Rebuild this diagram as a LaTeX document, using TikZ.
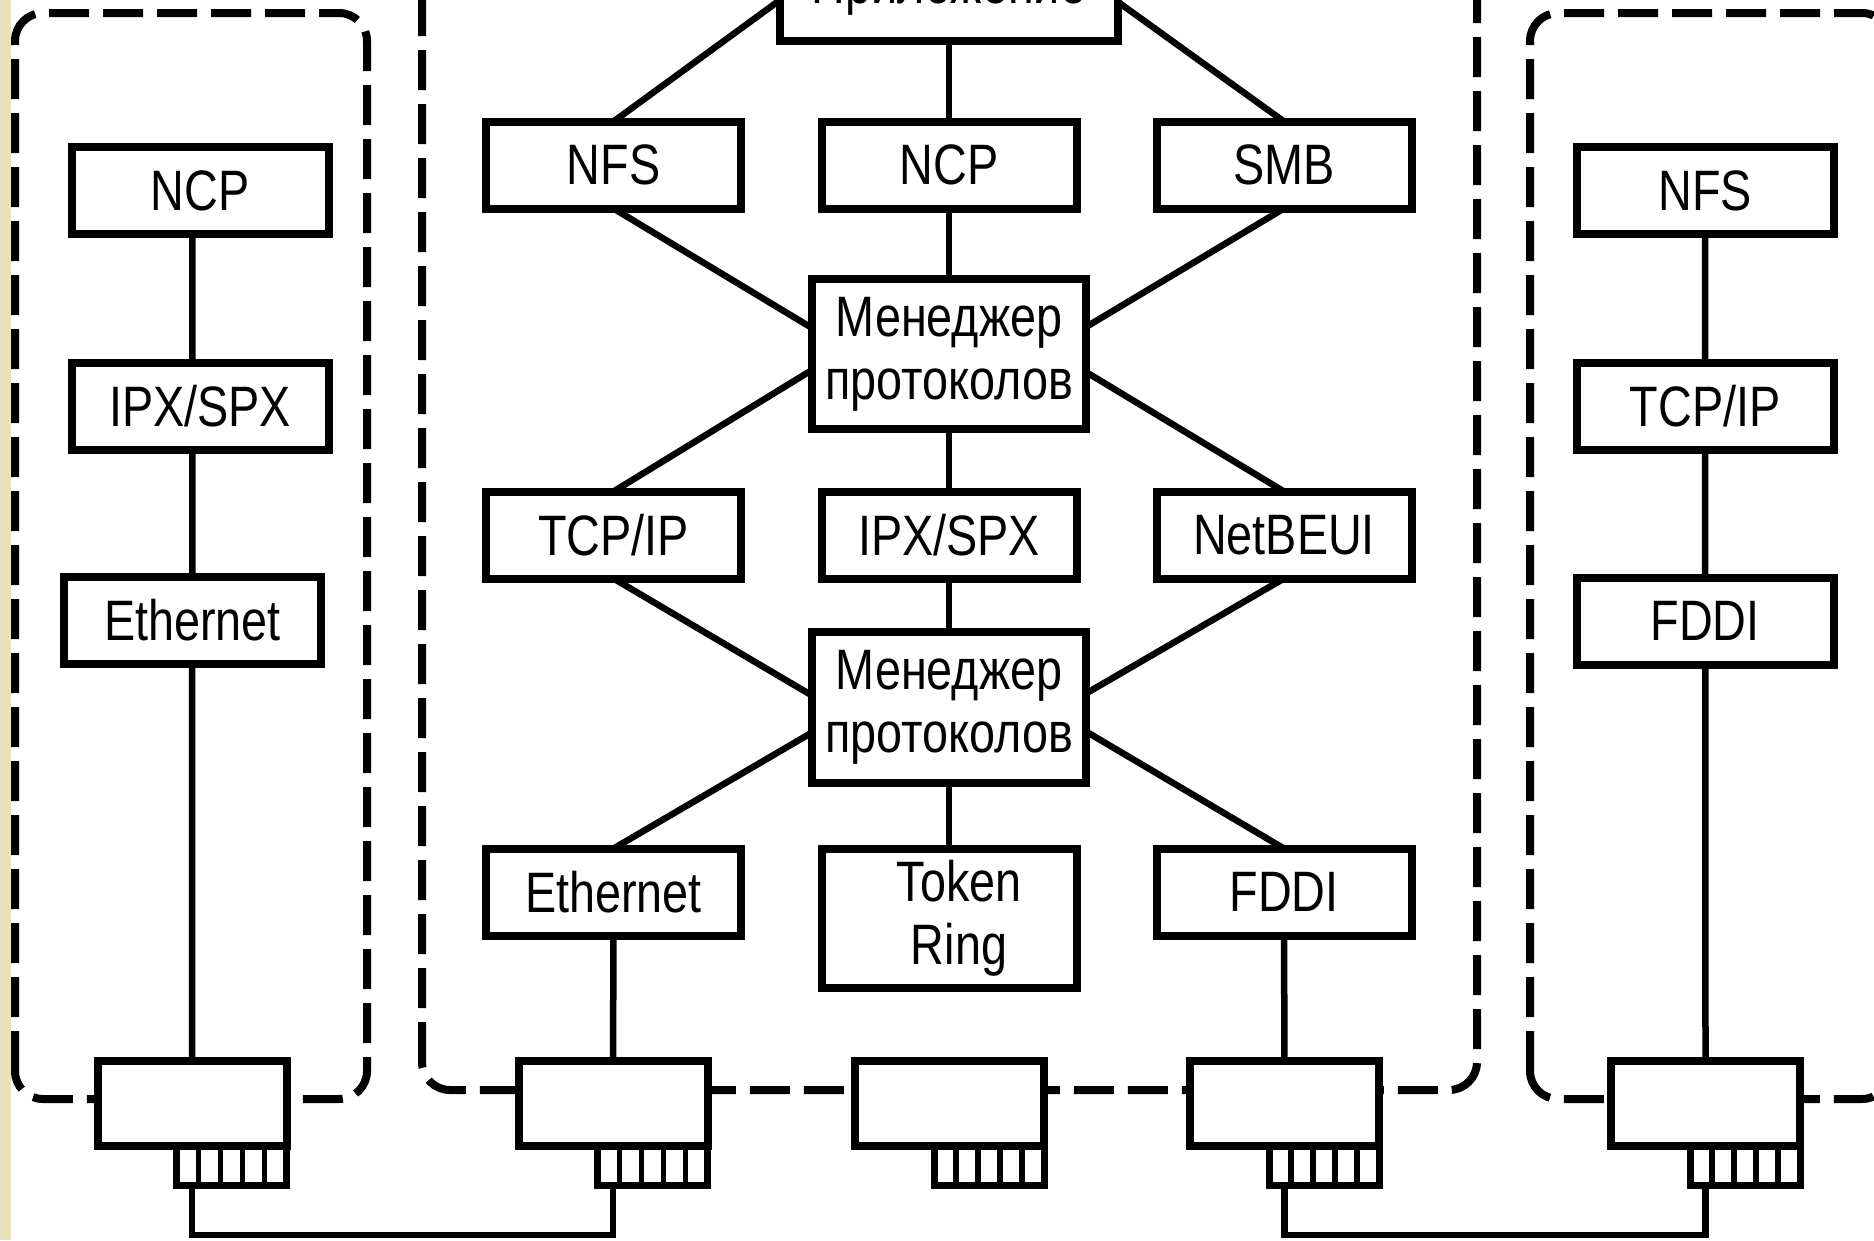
\documentclass[tikz,border=0pt]{standalone}
\usepackage{fontspec}
\setmainfont{Liberation Sans}[FakeStretch=0.82]
\usetikzlibrary{calc}
\pgfdeclarelayer{bg}
\pgfsetlayers{bg,main}
\definecolor{stripc}{RGB}{232,225,186}
\begin{document}
\begin{tikzpicture}[x=1pt,y=-1pt,
  box/.style={draw,line width=8pt,fill=white,inner sep=0pt,outer sep=0pt,minimum width=255pt,minimum height=87pt,align=center,font=\fontsize{57}{63}\selectfont},
  sbox/.style={box,minimum width=257pt},
  nic/.style={draw,line width=8pt,fill=white,inner sep=0pt,outer sep=0pt,minimum width=189pt,minimum height=85pt},
  port/.style={draw,line width=7pt,fill=white,inner sep=0pt,outer sep=0pt,minimum width=110pt,minimum height=39pt},
  conn/.style={line width=6.5pt},
  divider/.style={line width=5.5pt},
  dbox/.style={line width=8pt,dash pattern=on 40pt off 14pt,rounded corners=28pt}]
\useasboundingbox (0,0) rectangle (1874,1240);

% middle column
\node[box,minimum width=338pt,minimum height=102pt] (app) at (949,-10) {Приложение};
\node[box] (nfs) at (613.5,165) {NFS};
\node[box] (ncp) at (949,165) {NCP};
\node[box] (smb) at (1284,165) {SMB};
\node[box,minimum width=274pt,minimum height=150pt] (m1) at (949,354) {Менеджер\\протоколов};
\node[box] (tcp) at (613.5,535) {TCP/IP};
\node[box] (ipx) at (949,535) {IPX/SPX};
\node[box] (netb) at (1284,535) {NetBEUI};
\node[box,minimum width=274pt,minimum height=151pt] (m2) at (949,707.5) {Менеджер\\протоколов};
\node[box] (eth) at (613.5,892) {Ethernet};
\node[box,minimum height=139pt] (tok) at (949,918.5) {\hspace*{20pt}Token\\\hspace*{20pt}Ring};
\node[box] (fddi) at (1284,892) {FDDI};

% left column
\node[sbox] (lncp) at (200,190.5) {NCP};
\node[sbox] (lipx) at (200,406) {IPX/SPX};
\node[sbox] (leth) at (192.5,620) {Ethernet};

% right column
\node[sbox] (rnfs) at (1705,190.5) {NFS};
\node[sbox] (rtcp) at (1705,406) {TCP/IP};
\node[sbox] (rfddi) at (1705,621) {FDDI};

% network adapters
\node[nic] (nic1) at (192,1103.5) {};
\node[nic] (nic2) at (613,1103.5) {};
\node[nic] (nic3) at (949.5,1103.5) {};
\node[nic] (nic4) at (1284.5,1103.5) {};
\node[nic] (nic5) at (1705.5,1103.5) {};
\foreach \i in {1,...,5}{
  \node[port,anchor=north east] (p\i) at (nic\i.south east) {};
  \foreach \k in {1,2,3,4}
    \draw[divider] ($(p\i.north west)!\k/5!(p\i.north east)$) -- ($(p\i.south west)!\k/5!(p\i.south east)$);
}

\coordinate (busL) at (400,1235);
\coordinate (busR) at (1500,1235);

\begin{pgfonlayer}{bg}
  \fill[white] (0,0) rectangle (1874,1240);
  \draw[dbox] (15,1099) rectangle (367,13);
  \draw[dbox] (422,1090) rectangle (1477,-150);
  \draw[dbox] (1530,1099) rectangle (1890,13);

  \draw[conn] (app.south) -- (ncp.north);
  \draw[conn] (nfs.north) -- ([yshift=-10pt]app.west);
  \draw[conn] (smb.north) -- ([yshift=-12pt]app.east);
  \draw[conn] (ncp.south) -- (m1.north);
  \draw[conn] (nfs.south) -- ([yshift=26pt]m1.west);
  \draw[conn] (smb.south) -- ([yshift=27pt]m1.east);
  \draw[conn] (m1.south) -- (ipx.north);
  \draw[conn] (tcp.north) -- ([yshift=-16pt]m1.west);
  \draw[conn] (netb.north) -- ([yshift=-18pt]m1.east);
  \draw[conn] (tcp.south) -- ([yshift=12pt]m2.west);
  \draw[conn] (netb.south) -- ([yshift=14pt]m2.east);
  \draw[conn] (ipx.south) -- (m2.north);
  \draw[conn] (eth.north) -- ([yshift=-25pt]m2.west);
  \draw[conn] (fddi.north) -- ([yshift=-24pt]m2.east);
  \draw[conn] (m2.south) -- (tok.north);
  \draw[conn] (eth.south) -- (nic2.north);
  \draw[conn] (fddi.south) -- (nic4.north);
  \draw[conn] (leth.center |- lncp.south) -- (nic1.north);
  \draw[conn] (rnfs.south) -- (nic5.north);
  \draw[conn] (nic1.center |- p1.south) |- (busL) -| (nic2.center |- p2.south);
  \draw[conn] (nic4.center |- p4.south) |- (busR) -| (nic5.center |- p5.south);
\end{pgfonlayer}

\fill[stripc] (0,0) rectangle (11,1240);
\end{tikzpicture}
\end{document}
